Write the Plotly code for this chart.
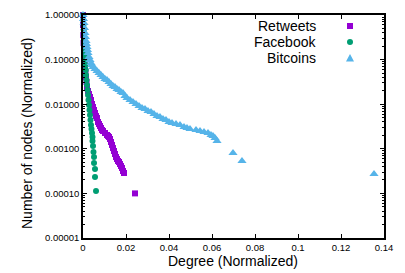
import plotly.graph_objects as go

# ---- data ----
retweets_x = [0.0, 0.0, 0.00014, 0.00028, 0.00047, 0.0006, 0.00074, 0.00093, 0.00116, 0.0014,
              0.00163, 0.00186, 0.00233, 0.00279, 0.00326, 0.00372, 0.00419, 0.00465, 0.00512,
              0.00558, 0.00605, 0.00651, 0.00698, 0.00744, 0.00791, 0.00837, 0.00884, 0.0093,
              0.01023, 0.01116, 0.01163, 0.01209, 0.01256, 0.01302, 0.01349, 0.01395, 0.01442,
              0.01488, 0.01535, 0.01581, 0.01628, 0.01674, 0.0172, 0.01767, 0.01814, 0.0186,
              0.01907, 0.02419]
retweets_y = [1.0, 0.597, 0.356, 0.236, 0.164, 0.127, 0.0931, 0.0682, 0.0527, 0.0407,
              0.0315, 0.0243, 0.0198, 0.0169, 0.0145, 0.0124, 0.0101, 0.00865, 0.00741,
              0.00635, 0.00543, 0.00491, 0.00399, 0.0036, 0.00325, 0.00293, 0.00264, 0.00251,
              0.00226, 0.00204, 0.00194, 0.00184, 0.00166, 0.00142, 0.00122, 0.00104, 0.000893,
              0.000764, 0.000655, 0.00059, 0.000532, 0.000506, 0.000456, 0.000411, 0.000371, 0.000318,
              0.000287, 0.0001]

facebook_x = [0.0, 0.00009, 0.00019, 0.00033, 0.00047, 0.00056, 0.0007, 0.00079, 0.00093, 0.00107,
              0.00116, 0.0013, 0.0014, 0.00163, 0.00186, 0.00209, 0.00233, 0.00256, 0.00279,
              0.00302, 0.00326, 0.00349, 0.00372, 0.00395, 0.00419, 0.00442, 0.00442, 0.00465,
              0.00488, 0.00512, 0.00512, 0.00558, 0.00558, 0.00605]
facebook_y = [1.0, 0.773, 0.597, 0.461, 0.356, 0.275, 0.212, 0.164, 0.127, 0.098,
              0.0757, 0.0585, 0.0452, 0.0349, 0.0269, 0.0208, 0.0161, 0.0124, 0.0096,
              0.00741, 0.00573, 0.00442, 0.00342, 0.00278, 0.00226, 0.00184, 0.0015, 0.00116,
              0.000848, 0.000655, 0.000481, 0.000352, 0.000233, 0.000113]

bitcoins_x = [0.0, 0.00023, 0.00047, 0.0007, 0.00093, 0.00116, 0.0014, 0.00163, 0.00186, 0.00209,
              0.00233, 0.00279, 0.00326, 0.00372, 0.00419, 0.00465, 0.00558, 0.00651, 0.00744,
              0.00837, 0.0093, 0.01023, 0.01116, 0.01209, 0.01302, 0.01395, 0.01488, 0.01581,
              0.01674, 0.01767, 0.0186, 0.01953, 0.02047, 0.02186, 0.02326, 0.02465, 0.02605,
              0.02744, 0.02884, 0.03023, 0.03163, 0.03302, 0.03442, 0.03581, 0.03721, 0.0386,
              0.04, 0.0414, 0.04326, 0.04512, 0.04698, 0.04837, 0.04977, 0.05256, 0.05442,
              0.05628, 0.05814, 0.05953, 0.06047, 0.0614, 0.06233, 0.06977, 0.07395, 0.13535]
bitcoins_y = [1.0, 0.813, 0.662, 0.511, 0.395, 0.321, 0.261, 0.224, 0.192, 0.164,
              0.141, 0.1144, 0.098, 0.0839, 0.0757, 0.0682, 0.0615, 0.0555, 0.0501,
              0.0452, 0.0407, 0.0367, 0.0349, 0.0315, 0.0284, 0.0256, 0.0243, 0.0219,
              0.0208, 0.0188, 0.0178, 0.0153, 0.0138, 0.0124, 0.0112, 0.0101, 0.00912,
              0.00822, 0.0078, 0.00705, 0.00669, 0.00603, 0.00543, 0.00516, 0.00466, 0.00442,
              0.00399, 0.00379, 0.0036, 0.00342, 0.00308, 0.00293, 0.00278, 0.00264, 0.00251,
              0.00238, 0.00226, 0.00204, 0.00194, 0.00175, 0.0015, 0.000805, 0.000532, 0.000272]

x_ticks = [0, 0.02, 0.04, 0.06, 0.08, 0.1, 0.12, 0.14]
x_ticklabels = ["0", "0.02", "0.04", "0.06", "0.08", "0.1", "0.12", "0.14"]
y_ticks = [1.0, 0.1, 0.01, 0.001, 0.0001, 0.00001]
y_ticklabels = ["1.00000", "0.10000", "0.01000", "0.00100", "0.00010", "0.00001"]

series_names = ["Retweets", "Facebook", "Bitcoins"]
colors = ["#9400D3", "#009E73", "#56B4E9"]

FONT = "Liberation Sans, Arial, sans-serif"

fig = go.Figure()
fig.add_trace(go.Scatter(x=retweets_x, y=retweets_y, mode="markers", name=series_names[0],
                         marker=dict(symbol="square", size=6, color=colors[0]), cliponaxis=False))
fig.add_trace(go.Scatter(x=facebook_x, y=facebook_y, mode="markers", name=series_names[1],
                         marker=dict(symbol="circle", size=6, color=colors[1]), cliponaxis=False))
fig.add_trace(go.Scatter(x=bitcoins_x, y=bitcoins_y, mode="markers", name=series_names[2],
                         marker=dict(symbol="triangle-up", size=8, color=colors[2]), cliponaxis=False))

minor_y = []
for e in range(-5, 0):
    for m in range(2, 10):
        minor_y.append(m * 10 ** e)

fig.update_xaxes(range=[0, 0.14], tickvals=x_ticks, ticktext=x_ticklabels,
                 ticks="inside", ticklen=4, tickwidth=1, tickcolor="black",
                 showline=True, linecolor="black", linewidth=1.5, mirror="ticks",
                 showgrid=False, zeroline=False, automargin=False,
                 tickfont=dict(family=FONT, size=9.5, color="black"))
fig.update_yaxes(type="log", range=[-5, 0], tickvals=y_ticks, ticktext=y_ticklabels,
                 ticks="inside", ticklen=4, tickwidth=1, tickcolor="black",
                 minor=dict(tickvals=minor_y, ticks="inside", ticklen=2, tickcolor="black", tickwidth=1),
                 showline=True, linecolor="black", linewidth=1.5, mirror="ticks",
                 showgrid=False, zeroline=False, automargin=False,
                 tickfont=dict(family=FONT, size=9.5, color="black"))

# page body adds an 8px margin; size the figure so the plot lands where the reference has it
OFF = 8
W, H = 405 - OFF, 273 - OFF
l, r, t, b = 83 - OFF, 21, 15 - OFF, 35
pw, ph = W - l - r, H - t - b
def px(x):
    return (x - OFF - l) / pw
def py(y):
    return 1 - (y - OFF - t) / ph

# axis titles
fig.add_annotation(x=px(233), y=py(261), xref="paper", yref="paper", text="Degree (Normalized)",
                   showarrow=False, xanchor="center", yanchor="middle",
                   font=dict(family=FONT, size=14, color="black"))
fig.add_annotation(x=px(27), y=py(134), xref="paper", yref="paper", text="Number of nodes (Normalized)",
                   showarrow=False, xanchor="center", yanchor="middle", textangle=-90,
                   font=dict(family=FONT, size=14, color="black"))

# gnuplot-style key: right-aligned text, symbol to the right
key_rows = [26, 42, 58]
for name, col, yy, sym in zip(series_names, colors, key_rows, ["square", "circle", "triangle"]):
    fig.add_annotation(x=px(318), y=py(yy), xref="paper", yref="paper", text=name,
                       showarrow=False, xanchor="right", yanchor="middle",
                       font=dict(family=FONT, size=14, color="black"))
    cx, cy = px(350), py(yy)
    dx, dy = 3 / pw, 3 / ph
    if sym == "square":
        fig.add_shape(type="rect", xref="paper", yref="paper", x0=cx - dx, x1=cx + dx,
                      y0=cy - dy, y1=cy + dy, fillcolor=col, line=dict(width=0))
    elif sym == "circle":
        fig.add_shape(type="circle", xref="paper", yref="paper", x0=cx - dx, x1=cx + dx,
                      y0=cy - dy, y1=cy + dy, fillcolor=col, line=dict(width=0))
    else:
        d = 4
        path = "M {} {} L {} {} L {} {} Z".format(cx - d / pw, cy - 3.5 / ph, cx + d / pw, cy - 3.5 / ph,
                                                 cx, cy + 4 / ph)
        fig.add_shape(type="path", xref="paper", yref="paper", path=path, fillcolor=col,
                      line=dict(width=0))

fig.update_layout(width=W, height=H, margin=dict(l=l, r=r, t=t, b=b),
                  paper_bgcolor="white", plot_bgcolor="white", showlegend=False,
                  font=dict(family=FONT, color="black"))

fig.write_html("out.html")
